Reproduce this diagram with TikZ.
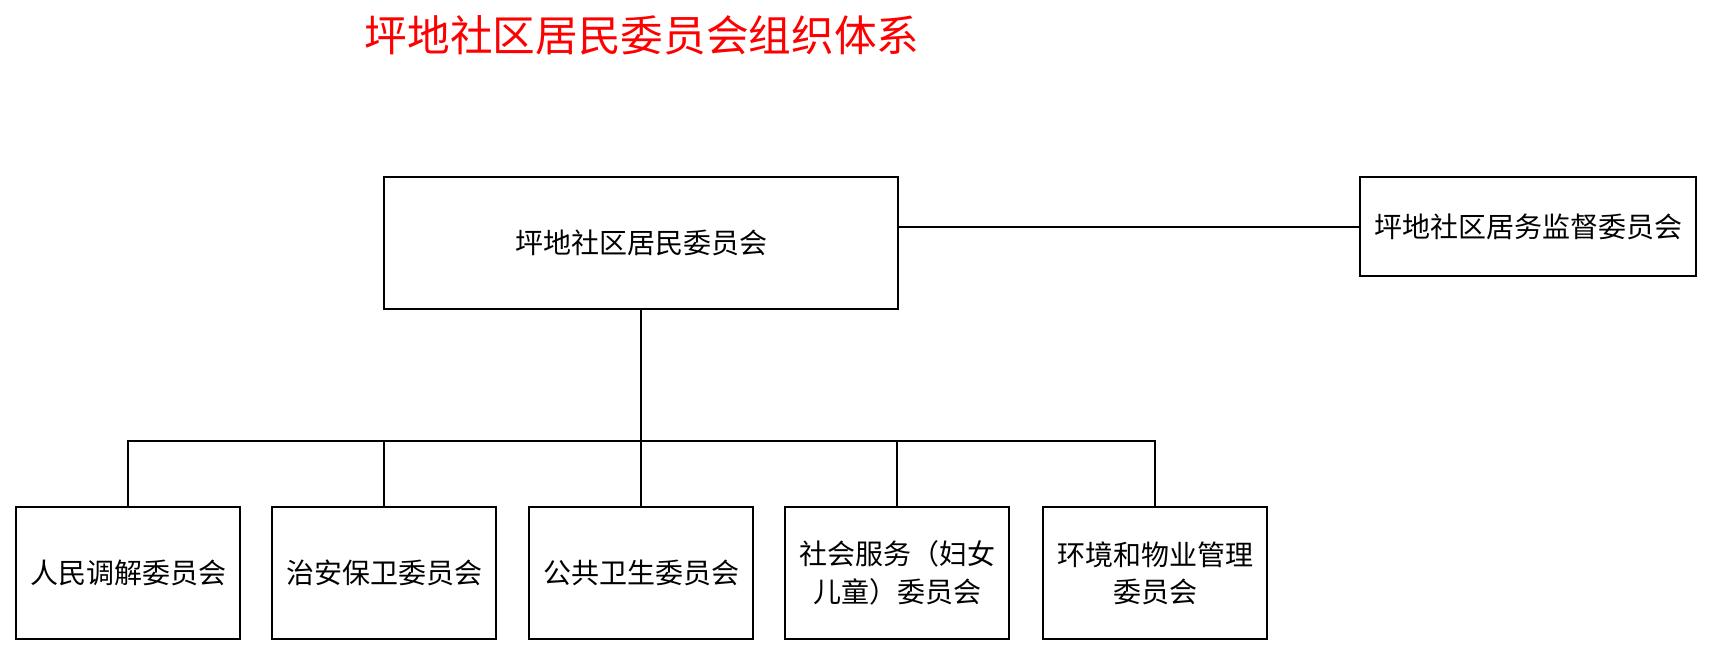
\documentclass[tikz,border=0pt]{standalone}
\usepackage{fontspec}
\setmainfont{Noto Sans CJK SC}
\begin{document}
\begin{tikzpicture}[x=0.75pt,y=-0.75pt,
 box/.style={draw,line width=1.5pt,inner sep=0pt,align=center,font=\fontsize{21}{28}\selectfont},
 ln/.style={line width=1.5pt}]
\useasboundingbox (0,0) rectangle (1712,655);
\node[text=red,font=\fontsize{32}{36}\selectfont] (t) at (642,35) {坪地社区居民委员会组织体系};
\node[box,minimum width=514*0.75pt,minimum height=132*0.75pt] (m) at (641,243) {坪地社区居民委员会};
\node[box,minimum width=336*0.75pt,minimum height=99*0.75pt] (r) at (1528,227) {坪地社区居务监督委员会};
\coordinate (me) at (898,227);
\coordinate (rw) at (1360,227);
\draw[ln] (me) -- (rw);
\coordinate (bus) at (641,441);
\foreach \n/\x/\t in {a/128/人民调解委员会,b/384/治安保卫委员会,c/641/公共卫生委员会,d/897/{社会服务（妇女\\儿童）委员会},e/1155/{环境和物业管理\\委员会}}{
 \node[box,minimum width=224*0.75pt,minimum height=132*0.75pt] (\n) at (\x,573) {\t};
}
\draw[ln] (m.south) -- (bus);
\draw[ln] (a.north) |- (bus) -| (e.north);
\foreach \n in {b,c,d}{\draw[ln] (\n.north) -- (\n.north |- bus);}
\end{tikzpicture}
\end{document}
